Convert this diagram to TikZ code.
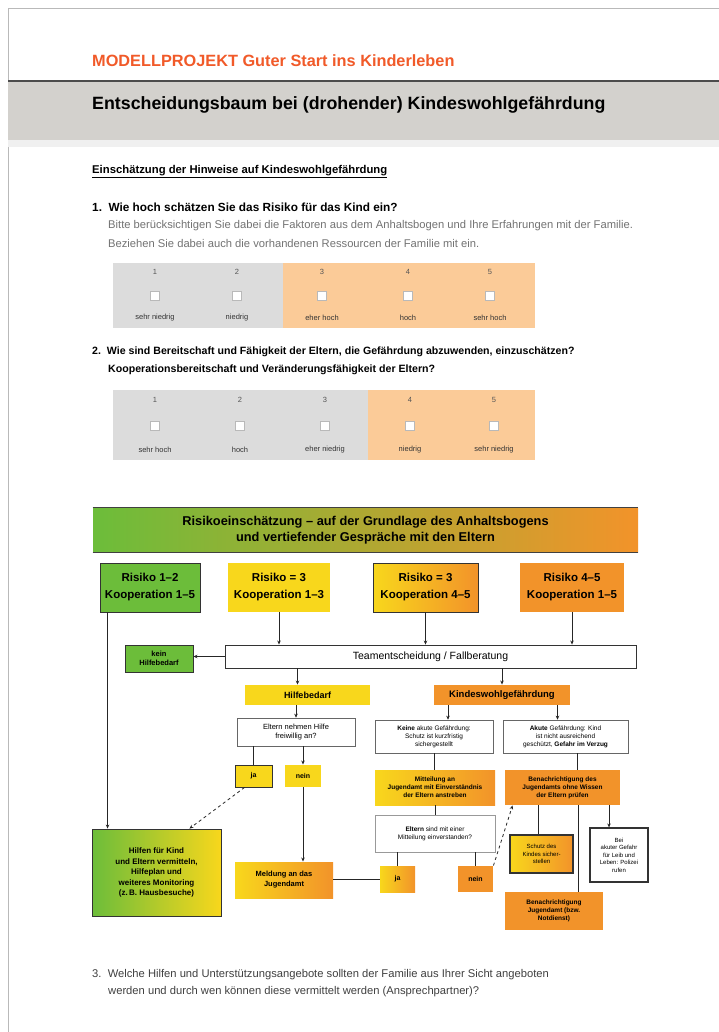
\documentclass[tikz,border=0pt]{standalone}
\usepackage{fontspec}
\setmainfont{Liberation Sans}
\usetikzlibrary{arrows.meta,calc}
\definecolor{hdrred}{HTML}{F15A29}
\definecolor{bandgray}{HTML}{D3D1CD}
\definecolor{tabgray}{HTML}{DCDCDC}
\definecolor{tabpeach}{HTML}{FBCB98}
\definecolor{fgreen}{HTML}{6CBD3A}
\definecolor{fyellow}{HTML}{F8D71C}
\definecolor{forange}{HTML}{F2932A}
\definecolor{txtgray}{HTML}{555555}
\begin{document}
\begin{tikzpicture}[x=1pt,y=-1pt,
  fbox/.style={draw=black!80, line width=0.9pt, inner sep=1pt, align=center, font=\fontsize{7}{8.5}\selectfont\bfseries},
  wbox/.style={fbox, fill=white, line width=0.6pt, draw=black!60},
  sz/.style 2 args={minimum width=#1 pt, minimum height=#2 pt},
  arr/.style={draw=black!85, line width=0.8pt, -{Stealth[length=4pt,width=3.5pt]}},
  ln/.style={draw=black!85, line width=0.8pt},
  chk/.style={draw=gray!55, fill=white, minimum size=9pt, inner sep=0pt},
  num/.style={font=\fontsize{7.5}{9}\selectfont, text=txtgray},
  lab/.style={font=\fontsize{7.5}{9}\selectfont, text=black!80},
  qtxt/.style={anchor=west, font=\fontsize{10.6}{13}\selectfont\bfseries, inner sep=0pt},
  stxt/.style={anchor=west, font=\fontsize{11.2}{13}\selectfont, text=black!55, inner sep=0pt}
]
\useasboundingbox (0,0) rectangle (719,1032);
\fill[white] (0,0) rectangle (719,1032);
% page frame
\draw[gray!55, line width=0.8pt] (8,1032) -- (8,8) -- (719,8);
% header
\node[anchor=west, inner sep=0pt, text=hdrred, font=\fontsize{16.3}{18}\selectfont\bfseries] (hdr) at (92,61) {MODELLPROJEKT Guter Start ins Kinderleben};
\fill[bandgray] (8,82) rectangle (719,140);
\fill[gray!12] (8,140) rectangle (719,147);
\draw[gray!60!black, line width=1.6pt] (8,81) -- (719,81);
\node[anchor=west, inner sep=0pt, font=\fontsize{17.8}{20}\selectfont\bfseries] (title) at (92,105) {Entscheidungsbaum bei (drohender) Kindeswohlgefährdung};
\node[anchor=west, inner sep=0pt, font=\fontsize{11.3}{13}\selectfont\bfseries] (sub) at (92,172) {\underline{Einschätzung der Hinweise auf Kindeswohlgefährdung}};
% question 1
\node[qtxt, font=\fontsize{11.8}{13}\selectfont\bfseries] (q1) at (92,207) {1.\ \ Wie hoch schätzen Sie das Risiko für das Kind ein?};
\node[stxt] (q1a) at (108,226) {Bitte berücksichtigen Sie dabei die Faktoren aus dem Anhaltsbogen und Ihre Erfahrungen mit der Familie.};
\node[stxt] (q1b) at (108,243) {Beziehen Sie dabei auch die vorhandenen Ressourcen der Familie mit ein.};
\fill[tabgray] (113,263) rectangle (283,328);
\fill[tabpeach] (283,263) rectangle (535,328);
\foreach \i/\x/\t in {1/155/sehr niedrig,2/237/niedrig,3/322/eher hoch,4/408/hoch,5/490/sehr hoch}{
  \node[num] (q1n\i) at (\x,272) {\i};
  \node[chk] (q1c\i) at (\x,296) {};
  \node[lab] (q1l\i) at (\x,318) {\t};
}
% question 2
\node[qtxt] (q2) at (92,352) {2.\ \ Wie sind Bereitschaft und Fähigkeit der Eltern, die Gefährdung abzuwenden, einzuschätzen?};
\node[qtxt] (q2b) at (108,370) {Kooperationsbereitschaft und Veränderungsfähigkeit der Eltern?};
\fill[tabgray] (113,390) rectangle (368,460);
\fill[tabpeach] (368,390) rectangle (535,460);
\foreach \i/\x/\t in {1/155/sehr hoch,2/240/hoch,3/325/eher niedrig,4/410/niedrig,5/494/sehr niedrig}{
  \node[num] (q2n\i) at (\x,400) {\i};
  \node[chk] (q2c\i) at (\x,426) {};
  \node[lab] (q2l\i) at (\x,450) {\t};
}
% flowchart
\node[fbox, sz={545}{44}, left color=fgreen, middle color=fyellow, right color=forange, draw=none, font=\fontsize{12.8}{16}\selectfont\bfseries] (bar) at (365.5,530) {Risikoeinschätzung -- auf der Grundlage des Anhaltsbogens\\und vertiefender Gespräche mit den Eltern};
\draw[gray!50!black, line width=1.6pt] (bar.north west) -- (bar.north east);
\draw[gray!50!black, line width=1.6pt] (bar.south west) -- (bar.south east);
\node[fbox, sz={100}{49}, fill=fgreen, font=\fontsize{11.5}{17}\selectfont\bfseries] (r1) at (150,587.5) {Risiko 1--2\\Kooperation 1--5};
\node[fbox, sz={102}{49}, fill=fyellow, draw=none, font=\fontsize{11.5}{17}\selectfont\bfseries] (r2) at (279,587.5) {Risiko = 3\\Kooperation 1--3};
\node[fbox, sz={105}{49}, left color=fyellow, right color=forange, font=\fontsize{11.5}{17}\selectfont\bfseries] (r3) at (425.5,587.5) {Risiko = 3\\Kooperation 4--5};
\node[fbox, sz={104}{49}, fill=forange, draw=none, font=\fontsize{11.5}{17}\selectfont\bfseries] (r4) at (572,587.5) {Risiko 4--5\\Kooperation 1--5};
\node[fbox, sz={411}{23}, fill=white, font=\fontsize{10.5}{12}\selectfont] (team) at (430.5,656.5) {Teamentscheidung / Fallberatung};
\node[fbox, sz={68}{27}, fill=fgreen, font=\fontsize{7.5}{9}\selectfont\bfseries] (kein) at (159,658.5) {kein\\Hilfebedarf};
\node[fbox, sz={125}{20}, fill=fyellow, draw=none, font=\fontsize{9}{10}\selectfont\bfseries] (hilfe) at (307.5,695) {Hilfebedarf};
\node[fbox, sz={136}{20}, fill=forange, draw=none, font=\fontsize{9.5}{10}\selectfont\bfseries] (kwg) at (502,695) {Kindeswohlgefährdung};
\node[wbox, sz={118}{28}, font=\fontsize{7.5}{9}\selectfont] (annahme) at (296,732) {Eltern nehmen Hilfe\\freiwillig an?};
\node[fbox, sz={37}{22}, fill=fyellow] (ja1) at (253.5,776) {ja};
\node[fbox, sz={36}{22}, fill=fyellow, draw=none] (nein1) at (303,776) {nein};
\node[fbox, sz={129}{87}, left color=fgreen, right color=fyellow, font=\fontsize{8}{10.5}\selectfont\bfseries] (big) at (156.5,872.5) {Hilfen für Kind\\und Eltern vermitteln,\\Hilfeplan und\\weiteres Monitoring\\(z.\,B. Hausbesuche)};
\node[fbox, sz={98}{36}, left color=fyellow, right color=forange, draw=none, font=\fontsize{7.5}{10}\selectfont\bfseries] (jamt) at (284,880) {Meldung an das\\Jugendamt};
\node[wbox, sz={118}{33}, font=\fontsize{6.5}{8}\selectfont] (wl) at (434,736.5) {\textbf{Keine} akute Gefährdung:\\Schutz ist kurzfristig\\sichergestellt};
\node[wbox, sz={125}{33}, font=\fontsize{6.5}{8}\selectfont] (wr) at (565.5,736.5) {\textbf{Akute} Gefährdung: Kind\\ist nicht ausreichend\\geschützt, \textbf{Gefahr im Verzug}};
\node[fbox, sz={120}{35}, left color=fyellow, right color=forange, draw=none, font=\fontsize{6.5}{8}\selectfont\bfseries] (ol) at (435,787.5) {Mitteilung an\\Jugendamt mit Einverständnis\\der Eltern anstreben};
\node[fbox, sz={115}{35}, fill=forange, draw=none, font=\fontsize{6.5}{8}\selectfont\bfseries] (or) at (562.5,787.5) {Benachrichtigung des\\Jugendamts ohne Wissen\\der Eltern prüfen};
\node[wbox, sz={120}{37}, draw=black!40, font=\fontsize{6.5}{8}\selectfont] (eltern) at (435,833.5) {\textbf{Eltern} sind mit einer\\Mitteilung einverstanden?};
\node[fbox, sz={35}{26}, left color=fyellow, right color=forange, draw=none] (ja2) at (397.5,879) {ja};
\node[fbox, sz={35}{26}, fill=forange, draw=none] (nein2) at (475.5,879) {nein};
\node[fbox, sz={63}{38}, left color=fyellow, right color=forange, line width=1.2pt, font=\fontsize{6}{7.5}\selectfont] (schutz) at (541.5,854) {Schutz des\\Kindes sicher-\\stellen};
\node[wbox, sz={58}{54}, draw=black!80, line width=1.2pt, font=\fontsize{6}{7.5}\selectfont] (polizei) at (619,855) {Bei\\akuter Gefahr\\für Leib und\\Leben: Polizei\\rufen};
\node[fbox, sz={98}{38}, fill=forange, draw=none, font=\fontsize{6.5}{8}\selectfont\bfseries] (notd) at (554,911) {Benachrichtigung\\Jugendamt (bzw.\\Notdienst)};
% connectors
\draw[arr] ([xshift=8pt]r1.south west) -- ([xshift=8pt]r1.south west |- big.north);
\draw[arr] (r2.south) -- (r2.south |- team.north);
\draw[arr] (r3.south) -- (r3.south |- team.north);
\draw[arr] (r4.south) -- (r4.south |- team.north);
\draw[arr] (team.west) -- (team.west -| kein.east);
\draw[arr] ([xshift=-10pt]hilfe.north |- team.south) -- ([xshift=-10pt]hilfe.north);
\draw[arr] (kwg.north |- team.south) -- (kwg.north);
\draw[arr] (annahme.north |- hilfe.south) -- (annahme.north);
\draw[ln] (ja1.north |- annahme.south) -- (ja1.north);
\draw[arr] (nein1.north |- annahme.south) -- (nein1.north);
\draw[arr, dashed] ([xshift=10pt]ja1.south west) -- ([xshift=-32pt]big.north east);
\draw[arr] (nein1.south) -- (nein1.south |- jamt.north);
\draw[ln] (ja2.west) -- (ja2.west -| jamt.east);
\draw[arr] ([xshift=14pt]wl.north |- kwg.south) -- ([xshift=14pt]wl.north);
\draw[arr] ([xshift=-8pt]wr.north |- kwg.south) -- ([xshift=-8pt]wr.north);
\draw[ln] (wl.south) -- (wl.south |- ol.north);
\draw[ln] ([xshift=12pt]wr.south) -- ([xshift=12pt]wr.south |- or.north);
\draw[ln] (ol.south) -- (ol.south |- eltern.north);
\draw[ln] (ja2.north |- eltern.south) -- (ja2.north);
\draw[ln] (nein2.north |- eltern.south) -- (nein2.north);
\draw[arr, dashed] (nein2.north east) -- ([xshift=8pt]or.south west);
\draw[ln] ([xshift=-3pt]schutz.north |- or.south) -- ([xshift=-3pt]schutz.north);
\draw[ln] ([xshift=24pt]notd.north |- or.south) -- ([xshift=24pt]notd.north);
\draw[arr] ([xshift=-10pt]polizei.north |- or.south) -- ([xshift=-10pt]polizei.north);
% question 3
\node[stxt, text=black!75] (q3) at (92,975) {3.\ \ Welche Hilfen und Unterstützungsangebote sollten der Familie aus Ihrer Sicht angeboten};
\node[stxt, text=black!75] (q3b) at (108,992) {werden und durch wen können diese vermittelt werden (Ansprechpartner)?};
\end{tikzpicture}
\end{document}
